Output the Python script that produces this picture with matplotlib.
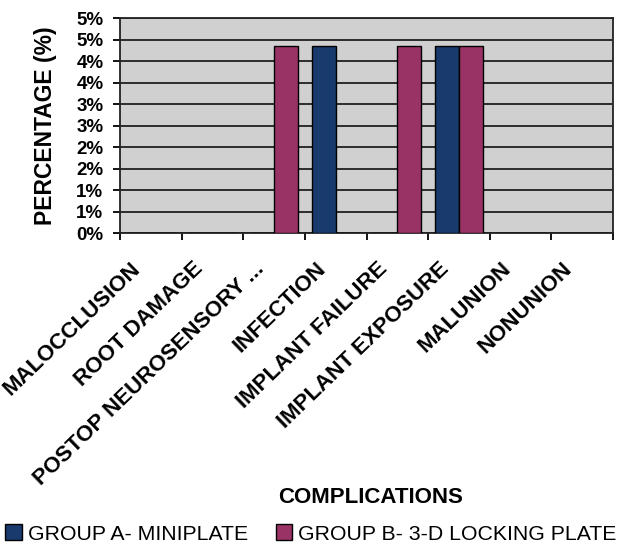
import matplotlib
matplotlib.use('Agg')
import matplotlib.pyplot as plt
import numpy as np

plt.rcParams['font.family'] = ['Liberation Sans', 'DejaVu Sans']

categories = ['MALOCCLUSION', 'ROOT DAMAGE', 'POSTOP NEUROSENSORY ...', 'INFECTION',
              'IMPLANT FAILURE', 'IMPLANT EXPOSURE', 'MALUNION', 'NONUNION']
group_a = [0, 0, 0, 4.35, 0, 4.35, 0, 0]
group_b = [0, 0, 4.35, 0, 4.35, 4.35, 0, 0]
series_names = ['GROUP A- MINIPLATE', 'GROUP B- 3-D LOCKING PLATE']
yticks = [0, 0.5, 1, 1.5, 2, 2.5, 3, 3.5, 4, 4.5, 5]
ytick_labels = ['0%', '1%', '1%', '2%', '2%', '3%', '3%', '4%', '4%', '5%', '5%']

blue = '#183A6C'
plum = '#993366'

fig = plt.figure(figsize=(6.22, 5.47), dpi=100)
ax = fig.add_axes([0.193, 0.574, 0.7925, 0.393])
ax.set_facecolor('#D0D0D0')

x = np.arange(len(categories))
w = 0.39
ax.bar(x - w / 2, group_a, w, color=blue, edgecolor='black', linewidth=1.0,
       label=series_names[0], zorder=3)
ax.bar(x + w / 2, group_b, w, color=plum, edgecolor='black', linewidth=1.0,
       label=series_names[1], zorder=3)

ax.set_xlim(-0.5, len(categories) - 0.5)
ax.set_ylim(0, 5)
ax.set_yticks(yticks)
ax.set_yticklabels(ytick_labels, fontsize=13.5, fontweight='bold')
ax.yaxis.grid(True, color='black', linewidth=1.1, zorder=1)
ax.set_axisbelow(True)

# labels sit a bit left of the category centre, tick marks on the boundaries
ax.set_xticks(x - 0.33)
ax.set_xticklabels(categories, fontsize=16, fontweight='bold')
ax.set_xticks(np.arange(len(categories) + 1) - 0.5, minor=True)
ax.tick_params(axis='x', which='major', length=0, pad=18)
ax.tick_params(axis='x', which='minor', length=5, width=1.3, direction='out')
ax.tick_params(axis='y', length=5, width=1.3, direction='out', pad=7)
plt.setp(ax.get_xticklabels(), rotation=44, ha='right', va='top', rotation_mode='anchor')

for s in ax.spines.values():
    s.set_linewidth(1.3)
    s.set_color('#222222')

ax.set_ylabel('PERCENTAGE (%)', fontsize=16.5, fontweight='bold', labelpad=14)
fig.text(0.595, 0.09, 'COMPLICATIONS', fontsize=16, fontweight='bold',
         ha='center', va='center')

fig.legend(loc='center', bbox_to_anchor=(0.5, 0.024), ncol=2, frameon=False,
           fontsize=15.3, handlelength=0.76, handleheight=0.76, handletextpad=0.3,
           columnspacing=1.3, borderaxespad=0)

fig.savefig('out.png', dpi=100)
